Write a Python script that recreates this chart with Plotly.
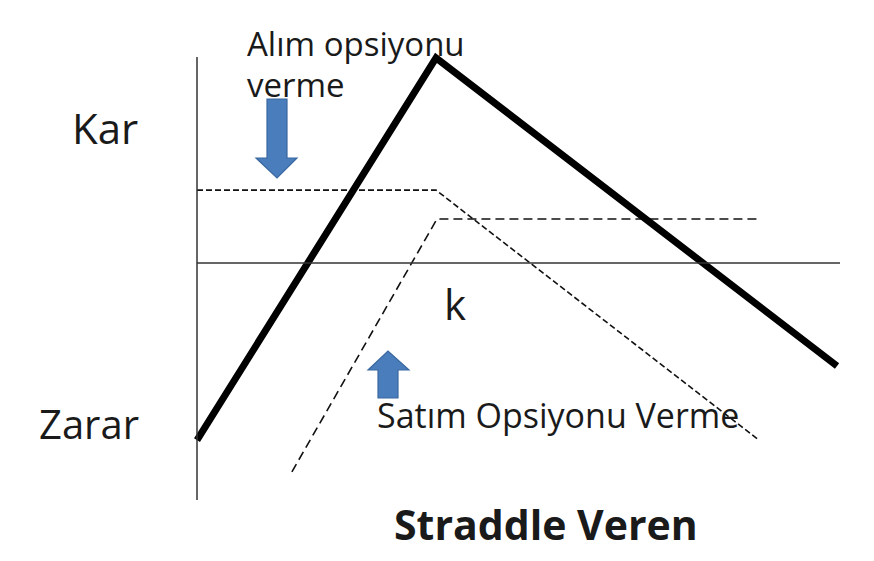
import plotly.graph_objects as go

# The page body adds an 8px margin, so the figure is drawn 8px in from the top-left
OFF = 8
W, H = 874 - OFF, 561 - OFF

# Conceptual data: stock price (strike K = 100) and profit, same units
strike = 100
straddle_x = [0, 100, 267.8]
straddle_y = [-74.1, 85.8, -43.1]
call_x = [0, 100, 235.1]
call_y = [30.5, 30.5, -74.1]
put_x = [39.7, 100.4, 235.6]
put_y = [-87.4, 18.4, 18.4]

labels = {
    "profit": "Kar",
    "loss": "Zarar",
    "strike": "k",
    "call1": "Alım opsiyonu",
    "call2": "verme",
    "put": "Satım Opsiyonu Verme",
    "title": "Straddle Veren",
}

# pixel mapping helpers for layout (reference-image pixel coords)
PX_PER_UNIT = 2.39
X0_PX, Y0_PX = 197 - OFF, 263 - OFF
x_range = [(0 - X0_PX) / PX_PER_UNIT, (W - X0_PX) / PX_PER_UNIT]
y_range = [(Y0_PX - H) / PX_PER_UNIT, (Y0_PX - 0) / PX_PER_UNIT]


def px(x):
    return (x - OFF) / W


def py(y):
    return 1 - (y - OFF) / H


FONT = "Open Sans"
fig = go.Figure()

fig.add_trace(go.Scatter(x=call_x, y=call_y, mode="lines",
                         line=dict(color="#111", width=1.6, dash="6px,3px"),
                         hoverinfo="skip", showlegend=False))
fig.add_trace(go.Scatter(x=put_x, y=put_y, mode="lines",
                         line=dict(color="#111", width=1.6, dash="9px,5px"),
                         hoverinfo="skip", showlegend=False))
fig.add_trace(go.Scatter(x=straddle_x, y=straddle_y, mode="lines",
                         line=dict(color="#000", width=7),
                         hoverinfo="skip", showlegend=False))

shapes = []
# axes
shapes.append(dict(type="line", xref="x", yref="y", x0=0, x1=0,
                   y0=(263 - 57) / PX_PER_UNIT, y1=(263 - 500) / PX_PER_UNIT,
                   line=dict(color="#333", width=1.5)))
shapes.append(dict(type="line", xref="x", yref="y", x0=0, x1=(840 - 197) / PX_PER_UNIT,
                   y0=0, y1=0, line=dict(color="#333", width=1.5)))


def arrow_path(pts):
    return "M " + " L ".join(f"{px(a)},{py(b)}" for a, b in pts) + " Z"


down = [(267, 99), (287, 99), (287, 158), (297, 158), (277, 178), (256, 158), (267, 158)]
up = [(378, 398), (398, 398), (398, 370), (409, 370), (388, 351), (368, 370), (378, 370)]
for pts in (down, up):
    shapes.append(dict(type="path", xref="paper", yref="paper", path=arrow_path(pts),
                       fillcolor="#4a7dbb", line=dict(color="#3a68a0", width=1.2)))

annotations = []


def add_text(text, x, y, size, bold=False):
    annotations.append(dict(text=f"<b>{text}</b>" if bold else text, xref="paper", yref="paper",
                            x=px(x), y=py(y), xanchor="left", yanchor="middle",
                            showarrow=False, align="left",
                            font=dict(family=FONT, size=size, color="#1a1a1a")))


add_text(labels["call1"], 245, 43, 33)
add_text(labels["call2"], 245, 84, 33)
add_text(labels["profit"], 70, 127, 42)
add_text(labels["loss"], 37, 423, 40)
add_text(labels["strike"], 442, 303, 42)
add_text(labels["put"], 375, 415, 34)
add_text(labels["title"], 392, 524, 41, bold=True)

fig.update_layout(
    width=W, height=H,
    margin=dict(l=0, r=0, t=0, b=0),
    paper_bgcolor="white", plot_bgcolor="white",
    xaxis=dict(range=x_range, visible=False, fixedrange=True),
    yaxis=dict(range=y_range, visible=False, fixedrange=True),
    shapes=shapes, annotations=annotations,
)

fig.write_html("out.html")
